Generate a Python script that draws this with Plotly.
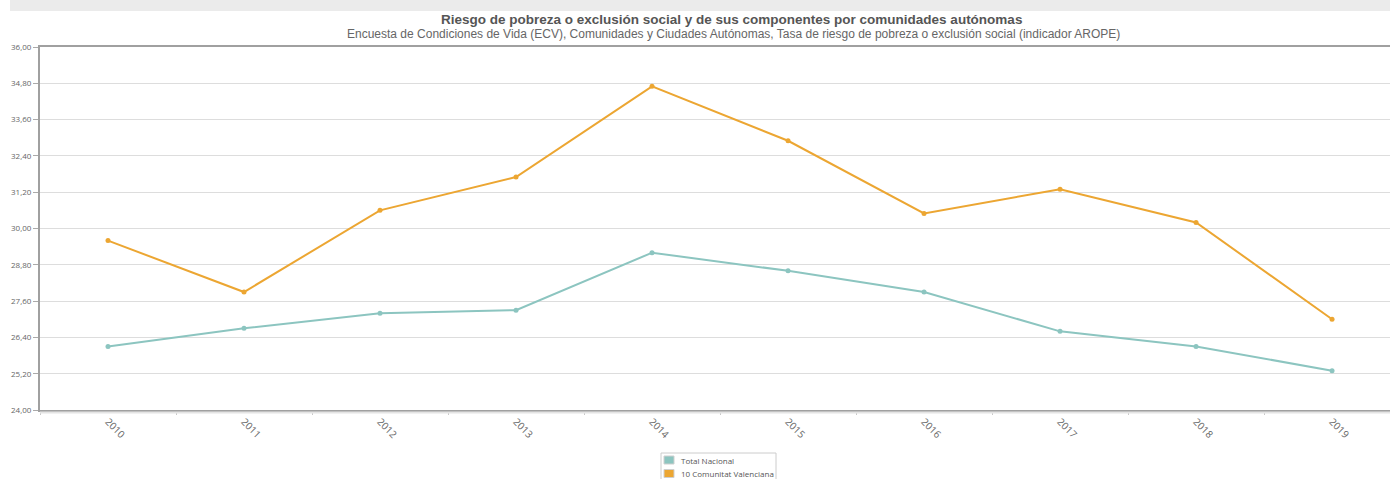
import plotly.graph_objects as go

years = ["2010", "2011", "2012", "2013", "2014", "2015", "2016", "2017", "2018", "2019"]
total_nacional = [26.1, 26.7, 27.2, 27.3, 29.2, 28.6, 27.9, 26.6, 26.1, 25.3]
valenciana = [29.6, 27.9, 30.6, 31.7, 34.7, 32.9, 30.5, 31.3, 30.2, 27.0]
series_names = ["Total Nacional", "10 Comunitat Valenciana"]
colors = ["#8cc5c0", "#eca632"]
y_ticks = [24.0, 25.2, 26.4, 27.6, 28.8, 30.0, 31.2, 32.4, 33.6, 34.8, 36.0]

title = "Riesgo de pobreza o exclusión social y de sus componentes por comunidades autónomas"
subtitle = ("Encuesta de Condiciones de Vida (ECV), Comunidades y Ciudades Autónomas, "
            "Tasa de riesgo de pobreza o exclusión social (indicador AROPE)")

W, H = 1390, 479
L, T, B_PX = 40, 47, 410  # plot area pixel edges (left, top, bottom)
PW = W - L
PH = B_PX - T


def px_x(x):
    return (x - L) / PW


def px_y(y):
    return (B_PX - y) / PH


fig = go.Figure()
for name, vals, col in zip(series_names, [total_nacional, valenciana], colors):
    fig.add_trace(go.Scatter(
        x=years, y=vals, mode="lines+markers", name=name, showlegend=False,
        line=dict(color=col, width=2), marker=dict(color=col, size=5),
        hoverinfo="x+y+name"))

title_font = "Liberation Sans, Arial, sans-serif"
tick_font = "Open Sans, DejaVu Sans, sans-serif"

shapes = [
    dict(type="rect", xref="paper", yref="paper",
         x0=px_x(10), x1=1.0, y0=px_y(11), y1=px_y(0),
         fillcolor="#ebebeb", line=dict(width=0), layer="below"),
    # soft shadow under the bottom axis line
    dict(type="line", xref="paper", yref="paper",
         x0=0, x1=1.0, y0=px_y(412.5), y1=px_y(412.5),
         line=dict(color="#e4e4e4", width=2)),
]
annotations = [
    dict(text="<b>" + title + "</b>", x=px_x(731), y=px_y(19),
         xref="paper", yref="paper", xanchor="center", yanchor="middle",
         showarrow=False, font=dict(size=13.5, color="#555555", family=title_font)),
    dict(text=subtitle, x=px_x(733), y=px_y(34),
         xref="paper", yref="paper", xanchor="center", yanchor="middle",
         showarrow=False, font=dict(size=12, color="#666666", family=title_font)),
]

# compact legend box (drawn as shapes + text, like the reference)
shapes.append(dict(type="rect", xref="paper", yref="paper",
                   x0=px_x(661), x1=px_x(776), y0=px_y(490), y1=px_y(453),
                   fillcolor="white", line=dict(color="#cccccc", width=1)))
for i, (name, col) in enumerate(zip(series_names, colors)):
    top = 456 + i * 13.5
    shapes.append(dict(type="rect", xref="paper", yref="paper",
                       x0=px_x(664), x1=px_x(674), y0=px_y(top + 8), y1=px_y(top),
                       fillcolor=col, line=dict(color="#cfcfcf", width=1)))
    annotations.append(dict(text=name, x=px_x(679), y=px_y(top + 4),
                            xref="paper", yref="paper", xanchor="left",
                            yanchor="middle", showarrow=False,
                            font=dict(size=8, color="#555555", family=tick_font)))

fig.update_layout(
    width=W, height=H,
    margin=dict(l=L, r=0, t=T, b=H - B_PX, autoexpand=False),
    paper_bgcolor="white", plot_bgcolor="white",
    separators=",.",
    font=dict(family=title_font, color="#666666"),
    showlegend=False,
    xaxis=dict(type="category", range=[-0.5, 9.426], tickson="boundaries",
               ticks="outside", ticklen=3, tickcolor="#c8c8c8",
               showgrid=False, showline=True, linecolor="#a0a0a0", linewidth=2,
               mirror=True, tickangle=45, automargin=False,
               tickfont=dict(size=10, color="#666666", family=tick_font),
               zeroline=False),
    yaxis=dict(range=[24, 36], tickvals=y_ticks, tickformat=".2f",
               ticks="outside", ticklen=5, tickcolor="#aaaaaa",
               showgrid=True, gridcolor="#dddddd", gridwidth=1,
               showline=True, linecolor="#a0a0a0", linewidth=2, automargin=False,
               tickfont=dict(size=8, color="#666666", family=tick_font),
               zeroline=False),
    shapes=shapes,
    annotations=annotations,
)

fig.write_html("out.html", config={"displayModeBar": False},
               post_script="document.body.style.margin='0';")
